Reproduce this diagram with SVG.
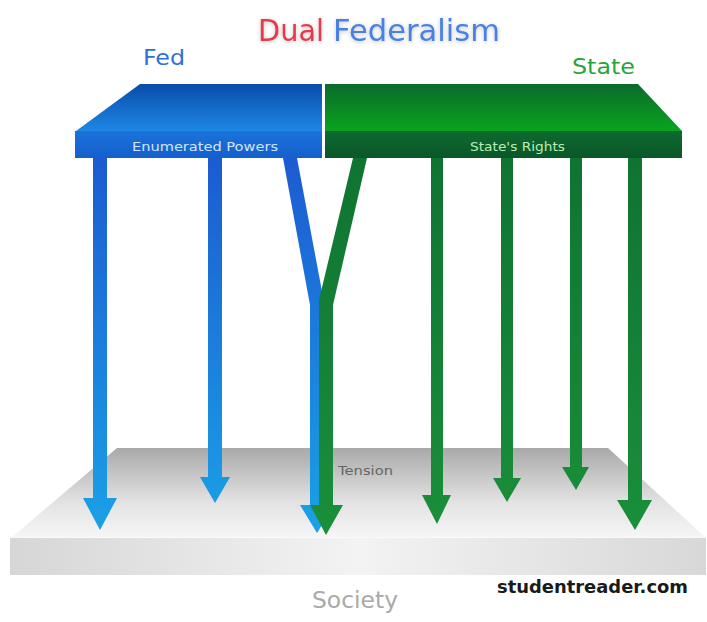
<svg xmlns="http://www.w3.org/2000/svg" width="707" height="622" viewBox="0 0 707 622">
  <defs>
    <linearGradient id="fedTop" x1="0" y1="0" x2="0" y2="1">
      <stop offset="0" stop-color="#0a4dab"/>
      <stop offset="1" stop-color="#1e86e4"/>
    </linearGradient>
    <linearGradient id="stateTop" x1="0" y1="0" x2="0" y2="1">
      <stop offset="0" stop-color="#0b6a2c"/>
      <stop offset="1" stop-color="#08a41e"/>
    </linearGradient>
    <linearGradient id="fedBand" x1="0" y1="0" x2="0" y2="1">
      <stop offset="0" stop-color="#1b72da"/>
      <stop offset="1" stop-color="#1460cc"/>
    </linearGradient>
    <linearGradient id="stateBand" x1="0" y1="0" x2="0" y2="1">
      <stop offset="0" stop-color="#0e6a30"/>
      <stop offset="1" stop-color="#0b5628"/>
    </linearGradient>
    <linearGradient id="blueArrow" gradientUnits="userSpaceOnUse" x1="0" y1="158" x2="0" y2="535">
      <stop offset="0" stop-color="#1c5bd2"/>
      <stop offset="1" stop-color="#1aa2e6"/>
    </linearGradient>
    <linearGradient id="greenArrow" gradientUnits="userSpaceOnUse" x1="0" y1="158" x2="0" y2="535">
      <stop offset="0" stop-color="#0f7432"/>
      <stop offset="1" stop-color="#1a8f3a"/>
    </linearGradient>
    <linearGradient id="slabTop" x1="0" y1="0" x2="0" y2="1">
      <stop offset="0" stop-color="#a9a9a9"/>
      <stop offset="0.6" stop-color="#e2e2e2"/>
      <stop offset="1" stop-color="#f6f6f6"/>
    </linearGradient>
    <linearGradient id="slabFront" x1="0" y1="0" x2="1" y2="0">
      <stop offset="0" stop-color="#d6d6d6"/>
      <stop offset="0.5" stop-color="#f3f3f3"/>
      <stop offset="1" stop-color="#d8d8d8"/>
    </linearGradient>
    <filter id="halo" x="-10%" y="-30%" width="120%" height="160%">
      <feGaussianBlur in="SourceAlpha" stdDeviation="2"/>
      <feOffset dy="1"/>
      <feComponentTransfer><feFuncA type="linear" slope="0.25"/></feComponentTransfer>
      <feMerge><feMergeNode/><feMergeNode in="SourceGraphic"/></feMerge>
    </filter>
  </defs>
  <style>
    text { font-family: "DejaVu Sans", "Open Sans", sans-serif; }
    .title { font-size: 29.5px; }
    .side { font-size: 22px; }
    .band { font-size: 12.5px; }
    .blue { fill: url(#blueArrow); }
    .green { fill: url(#greenArrow); }
  </style>

  <rect width="707" height="622" fill="#ffffff"/>

  <!-- heading -->
  <g id="title" filter="url(#halo)">
    <text class="title" x="258" y="41" fill="#e23b4b" textLength="66" lengthAdjust="spacingAndGlyphs">Dual</text>
    <text class="title" x="333" y="41" fill="#4a80e2" textLength="167" lengthAdjust="spacingAndGlyphs">Federalism</text>
  </g>

  <g id="fed-label">
    <text class="side" x="143" y="65" fill="#2f6fd8" textLength="42" lengthAdjust="spacingAndGlyphs">Fed</text>
  </g>
  <g id="state-label">
    <text class="side" x="572" y="74" fill="#27a53a" textLength="63" lengthAdjust="spacingAndGlyphs">State</text>
  </g>

  <!-- society slab -->
  <g id="society">
    <polygon points="117,448 608,448 705,537 12,537" fill="url(#slabTop)"/>
    <rect x="10" y="537" width="696" height="38" fill="url(#slabFront)"/>
    <line x1="10" y1="537.5" x2="706" y2="537.5" stroke="#fafafa" stroke-width="1"/>
    <text x="312" y="608" font-size="23.5" fill="#a9a9a9" textLength="86" lengthAdjust="spacingAndGlyphs">Society</text>
  </g>

  <g id="tension-label">
    <text x="338" y="475" font-size="12.5" fill="#666666" textLength="55" lengthAdjust="spacingAndGlyphs">Tension</text>
  </g>

  <!-- federal table -->
  <g id="fed-panel">
    <polygon points="140,84 322,84 322,131 76,131" fill="url(#fedTop)"/>
    <rect x="75" y="131" width="247" height="27" fill="url(#fedBand)"/>
    <text class="band" x="132" y="151" fill="#d3e5fd" textLength="146" lengthAdjust="spacingAndGlyphs">Enumerated Powers</text>
  </g>

  <!-- state table -->
  <g id="state-panel">
    <polygon points="325,84 638,84 682,131 325,131" fill="url(#stateTop)"/>
    <rect x="325" y="131" width="357" height="27" fill="url(#stateBand)"/>
    <text class="band" x="470" y="151" fill="#b9eeb0" textLength="95" lengthAdjust="spacingAndGlyphs">State's Rights</text>
  </g>

  <!-- powers flowing down to society -->
  <g id="connectors">
    <path class="blue" d="M93,158 H107 V498 H117 L100,530 L83,498 H93 Z"/>
    <path class="blue" d="M208,158 H222 V477 H230 L215,503 L200,477 H208 Z"/>
    <path class="blue" d="M283,158 H297 L324,302 V505 H334 L317,533 L300,505 H310 V305 Z"/>
    <path class="green" d="M353,158 H367 L333,305 V505 H343 L326,535 L310,505 H319 V300 Z"/>
    <path class="green" d="M431,158 H443 V495 H451 L437,524 L422,495 H431 Z"/>
    <path class="green" d="M501,158 H513 V478 H521 L507,502 L493,478 H501 Z"/>
    <path class="green" d="M570,158 H582 V467 H589 L576,490 L562,467 H570 Z"/>
    <path class="green" d="M628,158 H642 V500 H652 L635,530 L617,500 H628 Z"/>
  </g>

  <g id="credit">
    <text x="497" y="593" font-size="17.5" font-weight="bold" fill="#1a1a1a" textLength="191" lengthAdjust="spacingAndGlyphs">studentreader.com</text>
  </g>
</svg>
